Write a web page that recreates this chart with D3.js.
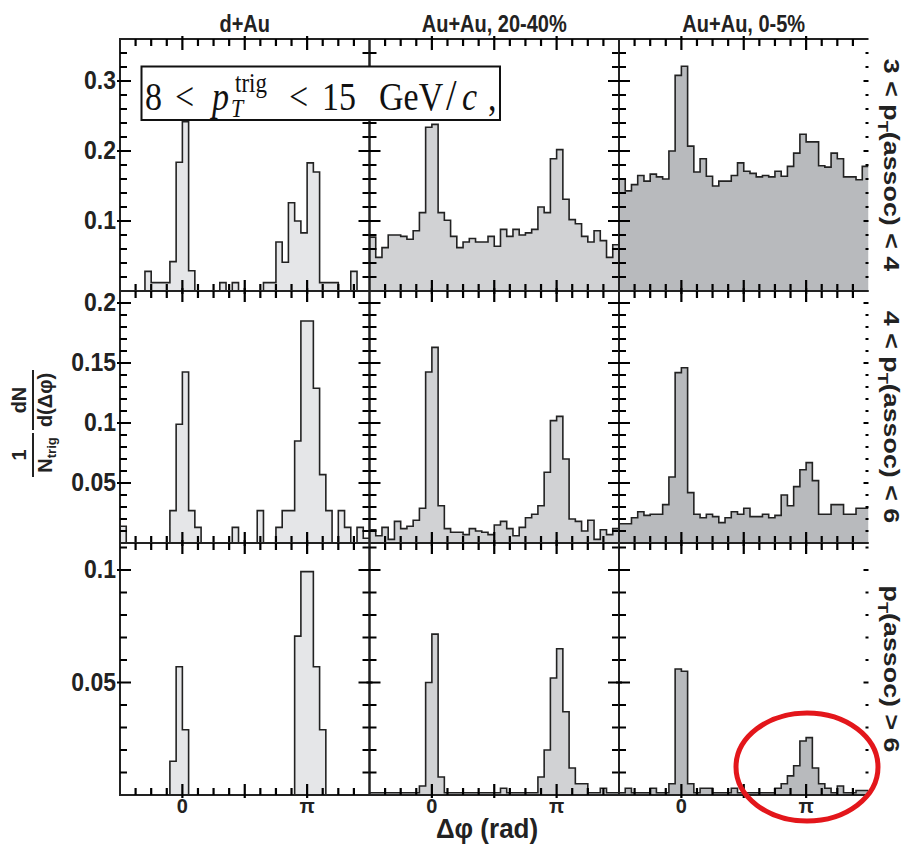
<!DOCTYPE html>
<html>
<head>
<meta charset="utf-8">
<script src="https://cdn.jsdelivr.net/npm/d3@7"></script>
<style>
  body { margin: 0; background: #fff; }
  svg { display: block; }
</style>
</head>
<body>
<div id="chart"></div>
<script>
// ---- data: 40 bins of width pi/20 from -pi/2 to 3pi/2 ----
const systems = ["d+Au", "Au+Au, 20-40%", "Au+Au, 0-5%"];
const ptLabelPre = ["3 < p", "4 < p", "p"];
const ptLabelPost = ["(assoc) < 4", "(assoc) < 6", "(assoc) > 6"];

const yMax = [0.36, 0.21, 0.112];
const yTickLabels = [[0.1, 0.2, 0.3], [0.05, 0.1, 0.15, 0.2], [0.05, 0.1]];
const yMajorStep = [0.1, 0.05, 0.05];
const yMinorStep = [0.02, 0.01, 0.01];
const xTickValues = [0, Math.PI];
const xTickLabels = ["0", "\u03c0"];

const dAu_3to4 = [0, 0, 0, 0, 0.028, 0.012, 0.012, 0.012, 0.042, 0.184,
  0.242, 0.029, 0, 0, 0, 0, 0.012, 0, 0.012, 0,
  0, 0, 0, 0.012, 0.012, 0.070, 0.041, 0.126, 0.100, 0.083,
  0.183, 0.170, 0.012, 0.012, 0.012, 0, 0, 0.028, 0, 0];
const AuAu2040_3to4 = [0.077, 0.048, 0.062, 0.080, 0.080, 0.078, 0.074, 0.086, 0.112, 0.234,
  0.238, 0.112, 0.101, 0.078, 0.062, 0.070, 0.075, 0.070, 0.070, 0.078,
  0.064, 0.088, 0.078, 0.088, 0.080, 0.083, 0.088, 0.120, 0.112, 0.189,
  0.202, 0.131, 0.102, 0.096, 0.078, 0.070, 0.086, 0.072, 0.048, 0.066];
const AuAu05_3to4 = [0.160, 0.143, 0.152, 0.165, 0.157, 0.167, 0.163, 0.160, 0.200, 0.308,
  0.321, 0.207, 0.170, 0.189, 0.164, 0.150, 0.157, 0.157, 0.165, 0.183,
  0.171, 0.168, 0.163, 0.165, 0.163, 0.171, 0.164, 0.178, 0.197, 0.224,
  0.213, 0.213, 0.179, 0.177, 0.197, 0.189, 0.163, 0.163, 0.159, 0.178];

const dAu_4to6 = [0.014, 0, 0, 0, 0, 0, 0, 0, 0.027, 0.099,
  0.1425, 0.027, 0.013, 0, 0, 0, 0, 0, 0.013, 0,
  0, 0, 0.027, 0, 0, 0.013, 0.027, 0.027, 0.085, 0.185,
  0.185, 0.129, 0.057, 0.027, 0, 0.027, 0.013, 0, 0.013, 0.004];
const AuAu2040_4to6 = [0.011, 0.006, 0.013, 0.003, 0.018, 0.012, 0.014, 0.019, 0.029, 0.1425,
  0.163, 0.031, 0.012, 0.009, 0.009, 0.007, 0.012, 0.010, 0.009, 0.007,
  0.015, 0.018, 0.012, 0.006, 0.013, 0.021, 0.024, 0.031, 0.059, 0.102,
  0.1055, 0.070, 0.020, 0.018, 0.010, 0.019, 0.003, 0.011, 0.007, 0.012];
const AuAu05_4to6 = [0.016, 0.016, 0.021, 0.026, 0.023, 0.024, 0.024, 0.032, 0.055, 0.142,
  0.146, 0.042, 0.024, 0.021, 0.024, 0.022, 0.017, 0.021, 0.026, 0.024,
  0.029, 0.022, 0.022, 0.024, 0.021, 0.023, 0.040, 0.031, 0.047, 0.061,
  0.067, 0.052, 0.024, 0.024, 0.032, 0.032, 0.024, 0.024, 0.029, 0.029];

const dAu_6up = [0, 0, 0, 0, 0, 0, 0, 0, 0.015, 0.057,
  0.029, 0, 0, 0, 0, 0, 0, 0, 0, 0,
  0, 0, 0, 0, 0, 0, 0, 0, 0.0706, 0.0993,
  0.0993, 0.057, 0.029, 0, 0, 0, 0, 0, 0, 0];
const AuAu2040_6up = [0.001, 0.001, 0.001, 0.001, 0.001, 0.001, 0.001, 0.001, 0.004, 0.050,
  0.0715, 0.008, 0.001, 0.001, 0.001, 0.001, 0.001, 0.001, 0.001, 0.001,
  0.001, 0.003, 0.001, 0.001, 0.001, 0.001, 0.001, 0.008, 0.020, 0.052,
  0.065, 0.037, 0.012, 0.005, 0.005, 0.001, 0.001, 0.003, 0.001, 0.001];
const AuAu05_6up = [0.001, 0.003, 0.001, 0.001, 0.001, 0.003, 0.001, 0.001, 0.005, 0.056,
  0.055, 0.005, 0.001, 0.003, 0.003, 0.001, 0.001, 0.001, 0.003, 0.001,
  0.001, 0.001, 0.001, 0.001, 0.001, 0.003, 0.005, 0.0085, 0.013, 0.024,
  0.0255, 0.012, 0.005, 0.003, 0.001, 0.004, 0.001, 0.001, 0.002, 0.002];

const panels = [
  [dAu_3to4, AuAu2040_3to4, AuAu05_3to4],
  [dAu_4to6, AuAu2040_4to6, AuAu05_4to6],
  [dAu_6up, AuAu2040_6up, AuAu05_6up]
];

// ---- layout ----
const width = 910, height = 844;
const plotLeft = 120, plotTop = 39, colW = 249.5, rowH = 252;
const phiMin = -Math.PI / 2, phiMax = 3 * Math.PI / 2;
const fills = ["#e5e6e8", "#d1d2d4", "#b8babd"];
const ink = "#222";
const sans = "'Liberation Sans', Arial, Helvetica, sans-serif";
const serif = "'Liberation Serif', 'Times New Roman', serif";

const svg = d3.select("#chart").append("svg")
  .attr("width", width)
  .attr("height", height);

const defs = svg.append("defs");
const histLayer = svg.append("g");
const axisLayer = svg.append("g");

function near(v, step) {
  return Math.abs(v / step - Math.round(v / step)) < 1e-6;
}

panels.forEach((row, r) => {
  const y0 = plotTop + r * rowH;
  const y = d3.scaleLinear().domain([0, yMax[r]]).range([y0 + rowH, y0]);

  row.forEach((values, c) => {
    const x0 = plotLeft + c * colW;
    const x = d3.scaleLinear().domain([phiMin, phiMax]).range([x0, x0 + colW]);

    const clipId = `clip-${r}-${c}`;
    defs.append("clipPath").attr("id", clipId)
      .append("rect").attr("x", x0).attr("y", y0).attr("width", colW).attr("height", rowH);

    // histogram as step area
    const nBins = values.length;
    const edges = d3.range(nBins + 1).map(i => phiMin + i * (phiMax - phiMin) / nBins);
    const pts = values.map((v, i) => [edges[i], v]);
    pts.push([edges[nBins], values[nBins - 1]]);

    const area = d3.area()
      .x(d => x(d[0]))
      .y0(y(0))
      .y1(d => y(d[1]))
      .curve(d3.curveStepAfter);
    const line = d3.line()
      .x(d => x(d[0]))
      .y(d => y(d[1]))
      .curve(d3.curveStepAfter);

    const hg = histLayer.append("g").attr("clip-path", `url(#${clipId})`);
    hg.append("path").attr("d", area(pts)).attr("fill", fills[c]);
    hg.append("path").attr("d", line(pts))
      .attr("fill", "none")
      .attr("stroke", ink)
      .attr("stroke-width", 1.6);

    // frame (the rightmost column has no right border)
    const g = axisLayer.append("g");
    const x1 = x0 + colW, yb = y0 + rowH;
    const frame = c < 2
      ? `M${x0},${y0}H${x1}V${yb}H${x0}Z`
      : `M${x1},${y0}H${x0}V${yb}H${x1}`;
    g.append("path").attr("d", frame)
      .attr("fill", "none").attr("stroke", ink).attr("stroke-width", 2);

    // ticks, collected into one path per panel
    let tickPath = "";
    const xt = d3.range(phiMin + Math.PI / 8, phiMax - 1e-6, Math.PI / 8);
    xt.forEach(v => {
      const major = near(v, Math.PI / 2) && v > -0.1 && v < Math.PI + 0.1;
      const len = major ? 11 : 7;
      const out = major ? 3 : 0;
      const xx = x(v);
      tickPath += `M${xx},${yb + out}V${yb - len}`;
      tickPath += `M${xx},${y0 - out}V${y0 + len}`;
    });
    const yTicks = d3.range(yMinorStep[r], yMax[r] - 1e-6, yMinorStep[r]);
    yTicks.forEach(v => {
      const major = near(v, yMajorStep[r]);
      const len = major ? 11 : 7;
      const yy = y(v);
      tickPath += `M${x0 - (major ? 3 : 0)},${yy}H${x0 + len}`;
      if (c < 2) {
        tickPath += `M${x1 + (major ? 3 : 0)},${yy}H${x1 - len}`;
      } else {
        tickPath += `M${x1},${yy}H${x1 - (major ? 5 : 3)}`;
      }
    });
    g.append("path").attr("d", tickPath)
      .attr("fill", "none").attr("stroke", "#000").attr("stroke-width", 2.2);

    // x tick labels on the bottom row
    if (r === 2) {
      xTickValues.forEach((v, i) => {
        g.append("text")
          .attr("transform", `translate(${x(v)},${yb + 18}) scale(1,1.05)`)
          .attr("text-anchor", "middle")
          .attr("font-family", sans).attr("font-weight", "bold")
          .attr("font-size", 20).attr("fill", ink)
          .text(xTickLabels[i]);
      });
    }
  });

  // y tick labels
  yTickLabels[r].forEach(v => {
    svg.append("text")
      .attr("transform", `translate(116,${y(v) + 8}) scale(1,1.1)`)
      .attr("text-anchor", "end")
      .attr("font-family", sans).attr("font-weight", "bold")
      .attr("font-size", 23).attr("fill", ink)
      .text(String(v));
  });

  // row label on the right, rotated
  const rt = svg.append("text")
    .attr("transform", `translate(884,${y0 + rowH / 2}) rotate(90) scale(1.22,1)`)
    .attr("text-anchor", "middle")
    .attr("font-family", sans).attr("font-weight", "bold")
    .attr("font-size", 22).attr("fill", ink);
  rt.append("tspan").text(ptLabelPre[r]);
  rt.append("tspan").attr("font-size", 15).attr("dy", 6).text("T");
  rt.append("tspan").attr("dy", -6).text(ptLabelPost[r]);
});

// column titles
systems.forEach((s, c) => {
  svg.append("text")
    .attr("transform", `translate(${plotLeft + c * colW + colW / 2},32) scale(1,1.15)`)
    .attr("text-anchor", "middle")
    .attr("font-family", sans).attr("font-weight", "bold")
    .attr("font-size", 20).attr("fill", ink)
    .text(s);
});

// x axis title
svg.append("text")
  .attr("transform", `translate(487,838) scale(1,1.08)`)
  .attr("text-anchor", "middle")
  .attr("font-family", sans).attr("font-weight", "bold")
  .attr("font-size", 26).attr("fill", ink)
  .text("\u0394\u03c6 (rad)");

// y axis title: 1/N_trig dN/d(dphi), rotated
const yTitle = svg.append("g").attr("transform", "translate(33,424) rotate(-90)");
const fracs = [
  { cx: -31, w: 44, num: "1", den: "N", sub: "trig" },
  { cx: 24, w: 60, num: "dN", den: "d(\u0394\u03c6)", sub: "" }
];
fracs.forEach(f => {
  yTitle.append("line").attr("x1", f.cx - f.w / 2).attr("x2", f.cx + f.w / 2)
    .attr("y1", 0).attr("y2", 0).attr("stroke", ink).attr("stroke-width", 2);
  yTitle.append("text").attr("x", f.cx).attr("y", -7).attr("text-anchor", "middle")
    .attr("font-family", sans).attr("font-weight", "bold").attr("font-size", 20)
    .attr("fill", ink).text(f.num);
  const dt = yTitle.append("text").attr("x", f.cx).attr("y", 19).attr("text-anchor", "middle")
    .attr("font-family", sans).attr("font-weight", "bold").attr("font-size", 20)
    .attr("fill", ink);
  dt.append("tspan").text(f.den);
  if (f.sub) dt.append("tspan").attr("font-size", 13).attr("dy", 4).text(f.sub);
});

// trigger-pT box
svg.append("rect")
  .attr("x", 141.5).attr("y", 66.5).attr("width", 358.5).attr("height", 53.5)
  .attr("fill", "#fff").attr("stroke", "#111").attr("stroke-width", 2);
const legendText = svg.append("g").attr("transform", "translate(0,110) scale(1,1.18)");
const legendParts = [
  { x: 145, t: "8", s: 34, dy: 0, it: false },
  { x: 175, t: "<", s: 34, dy: 0, it: false },
  { x: 212, t: "p", s: 34, dy: 0, it: true },
  { x: 231, t: "T", s: 22, dy: 6, it: true },
  { x: 235, t: "trig", s: 23, dy: -15, it: false },
  { x: 289, t: "<", s: 34, dy: 0, it: false },
  { x: 322, t: "15", s: 34, dy: 0, it: false },
  { x: 379, t: "GeV", s: 34, dy: 0, it: false },
  { x: 446, t: "/", s: 38, dy: 0, it: false },
  { x: 462, t: "c", s: 34, dy: 0, it: true },
  { x: 488, t: ",", s: 34, dy: 0, it: false }
];
legendParts.forEach(p => {
  legendText.append("text").attr("x", p.x).attr("y", p.dy)
    .attr("font-family", serif).attr("font-size", p.s)
    .attr("font-style", p.it ? "italic" : "normal")
    .attr("fill", "#111").text(p.t);
});

// red highlight ellipse
svg.append("ellipse")
  .attr("cx", 807).attr("cy", 767).attr("rx", 71).attr("ry", 54)
  .attr("fill", "none").attr("stroke", "#e3161b").attr("stroke-width", 5);
</script>
</body>
</html>
